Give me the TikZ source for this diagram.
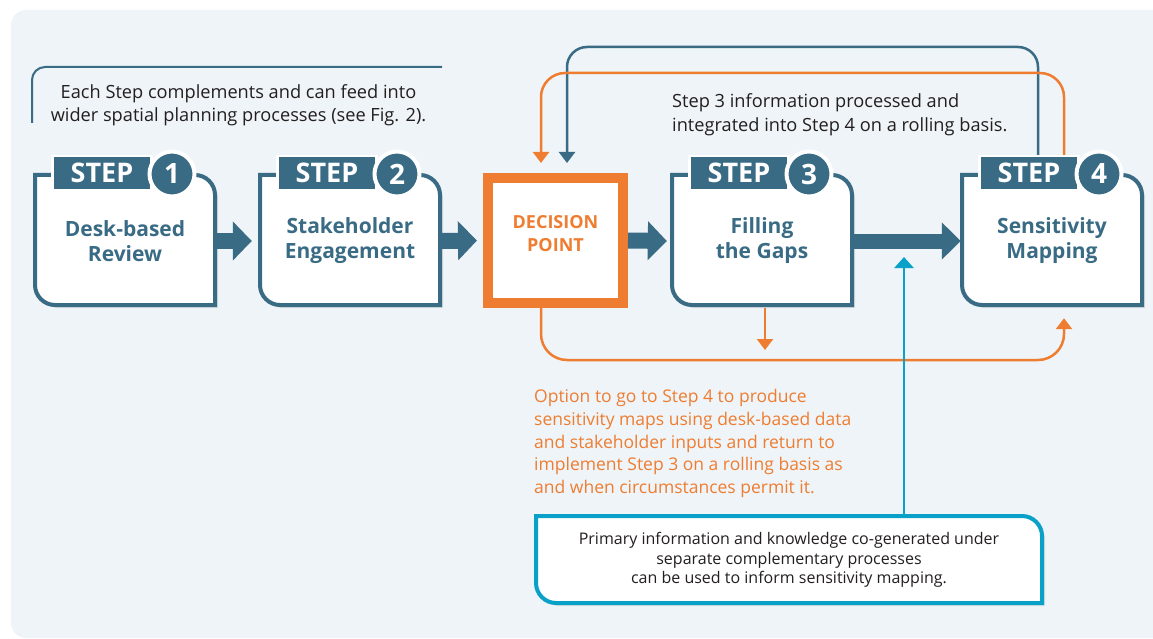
\documentclass[tikz,border=0pt]{standalone}
\usepackage{fontspec}
\setmainfont{Open Sans}
\usetikzlibrary{arrows.meta, shadows}
\definecolor{stepteal}{HTML}{3A6B85}
\definecolor{decorange}{HTML}{EE7D31}
\definecolor{infocyan}{HTML}{0AA1C9}
\definecolor{panelgrey}{HTML}{EEF4F7}
\definecolor{bodytext}{HTML}{231F20}
\begin{document}
\begin{tikzpicture}[x=1pt, y=-1pt, >={Triangle[width=16pt,length=11pt]},
        stepline/.style={draw=stepteal, line width=4pt, fill=white, drop shadow={opacity=0.18, shadow xshift=3pt, shadow yshift=-3pt}},
        steptitle/.style={text=stepteal, font=\bfseries\fontsize{21}{25}\selectfont, align=center, minimum width=180pt, minimum height=130pt, inner sep=0pt},
        tab/.style={fill=stepteal, draw=white, line width=2.5pt, minimum width=99pt, minimum height=34pt, inner sep=0pt, text=white, font=\bfseries\fontsize{27}{27}\selectfont},
        num/.style={circle, fill=stepteal, draw=white, line width=4pt, minimum size=45pt, inner sep=0pt, text=white, font=\bfseries\fontsize{28}{28}\selectfont},
        decision/.style={draw=decorange, line width=10pt, fill=white, minimum width=135pt, minimum height=125pt, inner sep=0pt},
        blockarrow/.style={draw=stepteal, line width=16pt, -{Triangle[width=38pt,length=19pt]}},
        tealloop/.style={draw=stepteal, line width=2.5pt, ->},
        orangeloop/.style={draw=decorange, line width=2.5pt, ->},
        cyanline/.style={draw=infocyan, line width=2.5pt, -{Triangle[width=19pt,length=11pt]}},
        infoline/.style={draw=infocyan, line width=4pt, fill=white, drop shadow={opacity=0.18, shadow xshift=3pt, shadow yshift=-3pt}},
        plaintext/.style={text=bodytext, inner sep=0pt, font=\fontsize{18.2}{23.5}\selectfont}]
    \useasboundingbox (0, 0) rectangle (1153, 639);
    \clip (0, 0) rectangle (1153, 639);
    \fill[panelgrey, rounded corners=15pt] (11, 10) rectangle (1190, 638);

    % note on the left
    \draw[stepteal, line width=2pt, rounded corners=13pt] (32, 123) |- (442, 67);
    \node[plaintext, align=center] (note) at (238.5, 105) {Each Step complements and can feed into\\wider spatial planning processes (see Fig. 2).};

    % step boxes
    \foreach \i/\x/\title in {1/35/{Desk-based\\Review}, 2/260/{Stakeholder\\Engagement}, 3/672/{Filling\\the Gaps}, 4/962/{Sensitivity\\Mapping}} {
        \draw[stepline] (\x, 175) -- ({\x + 160}, 175) .. controls ({\x + 171}, 175) and ({\x + 180}, 184) .. ({\x + 180}, 195)
            -- ({\x + 180}, 305) -- ({\x + 20}, 305) .. controls ({\x + 9}, 305) and (\x, 296) .. (\x, 285) -- cycle;
        \node[steptitle] (s\i) at ({\x + 90}, 241) {\title};
    };
    \node[decision] (dp) at (555.5, 240.5) {};
    \node[text=decorange, font=\bfseries\fontsize{18}{23}\selectfont, align=center] (dptext) at ([yshift=7pt]dp.center) {DECISION\\POINT};

    % loops
    \coordinate (hiT) at (800, 47);
    \coordinate (hiO) at (800, 73);
    \coordinate (lowO) at (800, 360);
    \coordinate (gapO) at (765, 350);
    \coordinate (infoTip) at (904, 257);
    \draw[tealloop, rounded corners=20pt] ([xshift=-14pt]s4.north) |- (hiT) -| ([xshift=11.5pt, yshift=10pt]dp.north);
    \draw[orangeloop, rounded corners=24pt] ([xshift=12pt]s4.north) |- (hiO) -| ([xshift=-14.5pt, yshift=10pt]dp.north);
    \draw[orangeloop, rounded corners=26pt] ([xshift=-14.5pt]dp.south) |- (lowO) -| ([xshift=12pt, yshift=-12pt]s4.south);
    \draw[orangeloop] ([xshift=3pt, yshift=-2pt]s3.south) -- (gapO);

    \foreach \i/\x in {1/35, 2/260, 3/672, 4/962} {
        \node[tab] (tab\i) at ({\x + 67}, 173) {STEP};
        \node[num] (num\i) at ({\x + 137}, 174) {\i};
    };

    % arrows between the boxes
    \draw[blockarrow] (s1.east) -- ([xshift=-8pt]s2.west);
    \draw[blockarrow] (s2.east) -- ([xshift=-6pt]dp.west);
    \draw[blockarrow] (dp.east) -- ([xshift=-5pt]s3.west);
    \draw[blockarrow, line width=15pt, -{Triangle[width=36pt,length=19pt]}] (s3.east) -- ([xshift=-1pt]s4.west);

    \node[plaintext, anchor=west, align=left] (s3note) at (672, 114.5) {Step 3 information processed and\\integrated into Step 4 on a rolling basis.};
    \node[plaintext, anchor=west, align=left, text=decorange, font=\fontsize{17.5}{22.75}\selectfont] (optext) at (534, 443.5) {Option to go to Step 4 to produce\\sensitivity maps using desk-based data\\and stakeholder inputs and return to\\implement Step 3 on a rolling basis as\\and when circumstances permit it.};

    % info box
    \draw[infoline] (536, 516) -- (1022, 516) .. controls (1033, 516) and (1042, 525) .. (1042, 536)
        -- (1042, 603) -- (556, 603) .. controls (545, 603) and (536, 594) .. (536, 583) -- cycle;
    \node[plaintext, align=center, minimum width=506pt, minimum height=87pt, font=\fontsize{16}{19.5}\selectfont] (info) at (789, 560) {Primary information and knowledge co-generated under\\separate complementary processes\\can be used to inform sensitivity mapping.};
    \draw[cyanline] ([xshift=115pt]info.north) -- (infoTip);
\end{tikzpicture}
\end{document}
